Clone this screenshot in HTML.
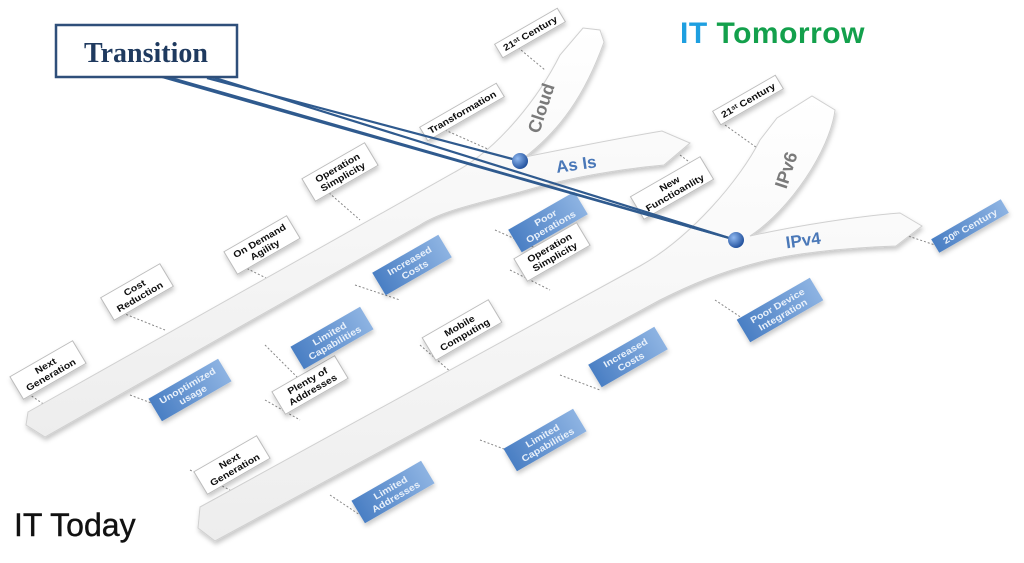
<!DOCTYPE html>
<html><head><meta charset="utf-8"><style>
html,body{margin:0;padding:0;background:#fff;}
svg{display:block;}
.w text{font-family:"Liberation Sans",sans-serif;font-weight:bold;font-size:10.5px;fill:#111;text-anchor:middle;}
.b text{font-family:"Liberation Sans",sans-serif;font-weight:bold;font-size:10.5px;fill:#e8f0fa;text-anchor:middle;}
.d{stroke:#888;stroke-width:1;stroke-dasharray:2 2;fill:none;}
</style></head><body>
<svg width="1024" height="563" viewBox="0 0 1024 563" xmlns="http://www.w3.org/2000/svg">
<defs>
<linearGradient id="bl" x1="0" y1="0" x2="1" y2="0"><stop offset="0" stop-color="#4a7fc4"/><stop offset="1" stop-color="#8db3e2"/></linearGradient>
<linearGradient id="rb" x1="0" y1="0" x2="0" y2="1"><stop offset="0" stop-color="#ffffff"/><stop offset="1" stop-color="#ededed"/></linearGradient>
<radialGradient id="dot" cx="0.35" cy="0.35" r="0.7"><stop offset="0" stop-color="#8fb8f0"/><stop offset="1" stop-color="#1f4e9a"/></radialGradient>
<filter id="sh" x="-5%" y="-5%" width="110%" height="115%"><feDropShadow dx="1" dy="3" stdDeviation="2.5" flood-color="#000" flood-opacity="0.22"/></filter>
</defs>

<g class="d">
<path d="M515 45 L545 70"/><path d="M445 130 L490 150"/><path d="M320 185 L360 220"/><path d="M240 265 L270 280"/>
<path d="M115 310 L165 330"/><path d="M15 385 L45 405"/>
<path d="M355 285 L400 300"/><path d="M265 345 L300 380"/><path d="M130 395 L170 410"/>
<path d="M495 230 L540 250"/><path d="M680 155 L700 170"/><path d="M725 125 L760 150"/>
<path d="M905 235 L935 245"/><path d="M715 300 L760 330"/><path d="M420 345 L460 380"/>
<path d="M560 375 L600 390"/><path d="M480 440 L520 455"/><path d="M190 470 L230 490"/><path d="M330 495 L360 515"/>
<path d="M265 400 L300 420"/><path d="M510 270 L550 290"/>
</g>

<path filter="url(#sh)" d="M28 412 L455 172 C500 148 540 95 560 55 L583 28 L600 30 L604 42 C585 95 560 130 525 157 C570 148 620 138 662 131 L690 143 L664 165 C610 170 560 180 520 192 C470 205 440 212 420 225 L45 437 L26 425 Z" fill="url(#rb)" stroke="#d0d0d0" stroke-width="1"/>
<path filter="url(#sh)" d="M200 507 L640 266 C690 238 740 180 760 140 L777 118 L812 96 L835 110 C830 150 790 210 750 236 C800 225 860 216 900 213 L922 226 L896 246 C840 248 790 254 760 262 C720 272 690 285 660 300 L215 541 L198 528 Z" fill="url(#rb)" stroke="#d0d0d0" stroke-width="1"/>

<text transform="translate(547,110) rotate(-72)" font-family="Liberation Sans,sans-serif" font-weight="bold" font-size="18" fill="#7a7a7a" text-anchor="middle">Cloud</text>
<text transform="translate(792,172) rotate(-72)" font-family="Liberation Sans,sans-serif" font-weight="bold" font-size="18" fill="#7a7a7a" text-anchor="middle">IPv6</text>
<text transform="translate(577,170) rotate(-8)" font-family="Liberation Sans,sans-serif" font-weight="bold" font-size="17" fill="#4a78b8" text-anchor="middle">As Is</text>
<text transform="translate(804,246) rotate(-8)" font-family="Liberation Sans,sans-serif" font-weight="bold" font-size="17" fill="#4a78b8" text-anchor="middle">IPv4</text>

<g class="w" filter="url(#sh)">
<g transform="matrix(0.87,-0.5,0.45,0.75,530,33)"><rect x="-36" y="-9" width="72" height="18" fill="#fff" stroke="#bbb"/><text y="4">21ˢᵗ Century</text></g>
<g transform="matrix(0.87,-0.5,0.45,0.75,462,112)"><rect x="-44" y="-9" width="88" height="18" fill="#fff" stroke="#bbb"/><text y="4">Transformation</text></g>
<g transform="matrix(0.87,-0.5,0.45,0.75,340,172)"><rect x="-36" y="-15" width="72" height="30" fill="#fff" stroke="#bbb"/><text y="-2">Operation</text><text y="10">Simplicity</text></g>
<g transform="matrix(0.87,-0.5,0.45,0.75,262,245)"><rect x="-36" y="-15" width="72" height="30" fill="#fff" stroke="#bbb"/><text y="-2">On Demand</text><text y="10">Agility</text></g>
<g transform="matrix(0.87,-0.5,0.45,0.75,137,292)"><rect x="-34" y="-15" width="68" height="30" fill="#fff" stroke="#bbb"/><text y="-2">Cost</text><text y="10">Reduction</text></g>
<g transform="matrix(0.87,-0.5,0.45,0.75,48,370)"><rect x="-36" y="-15" width="72" height="30" fill="#fff" stroke="#bbb"/><text y="-2">Next</text><text y="10">Generation</text></g>
<g transform="matrix(0.87,-0.5,0.45,0.75,310,385)"><rect x="-36" y="-15" width="72" height="30" fill="#fff" stroke="#bbb"/><text y="-2">Plenty of</text><text y="10">Addresses</text></g>
<g transform="matrix(0.87,-0.5,0.45,0.75,672,188)"><rect x="-40" y="-15" width="80" height="30" fill="#fff" stroke="#bbb"/><text y="-2">New</text><text y="10">Functioanlity</text></g>
<g transform="matrix(0.87,-0.5,0.45,0.75,748,100)"><rect x="-36" y="-9" width="72" height="18" fill="#fff" stroke="#bbb"/><text y="4">21ˢᵗ Century</text></g>
<g transform="matrix(0.87,-0.5,0.45,0.75,462,330)"><rect x="-38" y="-15" width="76" height="30" fill="#fff" stroke="#bbb"/><text y="-2">Mobile</text><text y="10">Computing</text></g>
<g transform="matrix(0.87,-0.5,0.45,0.75,232,465)"><rect x="-36" y="-15" width="72" height="30" fill="#fff" stroke="#bbb"/><text y="-2">Next</text><text y="10">Generation</text></g>
</g>

<g class="b" filter="url(#sh)">
<g transform="matrix(0.87,-0.5,0.45,0.75,412,265)"><rect x="-38" y="-15" width="76" height="30" fill="url(#bl)"/><text y="-2">Increased</text><text y="10">Costs</text></g>
<g transform="matrix(0.87,-0.5,0.45,0.75,332,338)"><rect x="-40" y="-15" width="80" height="30" fill="url(#bl)"/><text y="-2">Limited</text><text y="10">Capabilities</text></g>
<g transform="matrix(0.87,-0.5,0.45,0.75,190,390)"><rect x="-40" y="-15" width="80" height="30" fill="url(#bl)"/><text y="-2">Unoptimized</text><text y="10">usage</text></g>
<g transform="matrix(0.87,-0.5,0.45,0.75,548,222)"><rect x="-38" y="-15" width="76" height="30" fill="url(#bl)"/><text y="-2">Poor</text><text y="10">Operations</text></g>
<g transform="matrix(0.87,-0.5,0.45,0.75,970,226)"><rect x="-40" y="-9" width="80" height="18" fill="url(#bl)"/><text y="4">20ᵗʰ Century</text></g>
<g transform="matrix(0.87,-0.5,0.45,0.75,780,310)"><rect x="-42" y="-15" width="84" height="30" fill="url(#bl)"/><text y="-2">Poor Device</text><text y="10">Integration</text></g>
<g transform="matrix(0.87,-0.5,0.45,0.75,628,357)"><rect x="-38" y="-15" width="76" height="30" fill="url(#bl)"/><text y="-2">Increased</text><text y="10">Costs</text></g>
<g transform="matrix(0.87,-0.5,0.45,0.75,545,440)"><rect x="-40" y="-15" width="80" height="30" fill="url(#bl)"/><text y="-2">Limited</text><text y="10">Capabilities</text></g>
<g transform="matrix(0.87,-0.5,0.45,0.75,393,492)"><rect x="-40" y="-15" width="80" height="30" fill="url(#bl)"/><text y="-2">Limited</text><text y="10">Addresses</text></g>
</g>
<g class="w" filter="url(#sh)">
<g transform="matrix(0.87,-0.5,0.45,0.75,552,252)"><rect x="-36" y="-15" width="72" height="30" fill="#fff" stroke="#bbb"/><text y="-2">Operation</text><text y="10">Simplicity</text></g>
</g>

<g stroke="#2f5a8e" stroke-width="2.2" fill="none">
<line x1="162" y1="77" x2="736" y2="240"/>
<line x1="168" y1="77" x2="736" y2="240"/>
<line x1="207" y1="78" x2="520" y2="161"/>
<line x1="212" y1="77" x2="736" y2="240"/>
</g>
<circle cx="520" cy="161" r="8" fill="url(#dot)"/>
<circle cx="736" cy="240" r="8" fill="url(#dot)"/>

<rect x="56" y="25" width="181" height="52" fill="#fff" stroke="#2f4f7a" stroke-width="2.5"/>
<text x="146" y="62" font-family="Liberation Serif,serif" font-weight="bold" font-size="28" fill="#1f3a5f" text-anchor="middle">Transition</text>

<text x="680" y="43" font-family="Liberation Sans,sans-serif" font-weight="bold" font-size="30" letter-spacing="0.5"><tspan fill="#1e9fe0">IT </tspan><tspan fill="#13a04c">Tomorrow</tspan></text>
<text x="14" y="536" font-family="Liberation Sans Narrow,Liberation Sans,sans-serif" font-size="32" fill="#111" stroke="#111" stroke-width="0.4">IT Today</text>
</svg>
</body></html>
